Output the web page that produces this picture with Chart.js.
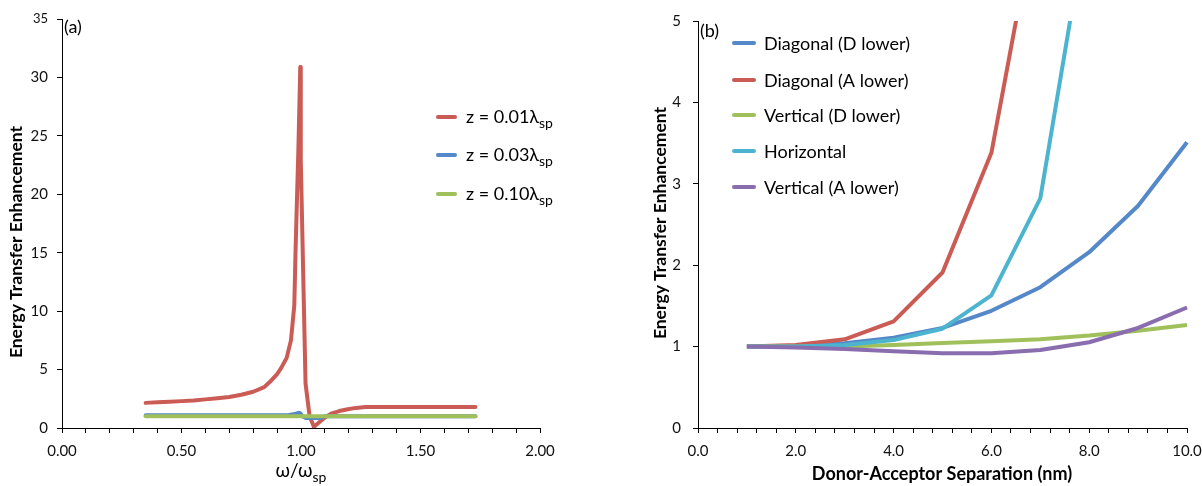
<!DOCTYPE html>
<html><head><meta charset="utf-8">
<script src="https://cdn.jsdelivr.net/npm/chart.js@4.4.1/dist/chart.umd.min.js"></script>
<style>
html,body{margin:0;padding:0;background:#fff;overflow:hidden;width:1202px;height:486px;}
#a{position:absolute;left:0;top:0;}
#b{position:absolute;left:600px;top:0;}
</style></head><body>
<canvas id="a" width="600" height="486"></canvas>
<canvas id="b" width="620" height="486"></canvas>
<script>
// ---------- Panel (a) data ----------
const redX = [0.35,0.40,0.45,0.50,0.55,0.60,0.65,0.70,0.75,0.80,0.846,0.87,0.90,0.916,0.94,0.958,0.965,0.972,0.977,0.983,0.989,0.997,0.999,1.019,1.036,1.054,1.08,1.10,1.126,1.16,1.196,1.23,1.27,1.40,1.55,1.73];
const redY = [2.15,2.2,2.25,2.3,2.35,2.45,2.55,2.65,2.85,3.1,3.5,3.95,4.6,5.1,6.0,7.5,9.0,10.5,15.0,19.5,23.8,30.9,23.0,3.8,1.0,0.1,0.55,0.9,1.23,1.45,1.6,1.72,1.8,1.8,1.8,1.8];
const blueX = [0.35,0.60,0.90,0.95,0.975,0.99,0.998,1.005,1.02,1.05,1.08,1.10,1.40,1.73];
const blueY = [1.1,1.1,1.1,1.12,1.2,1.3,1.25,1.0,0.85,0.85,0.85,1.0,1.0,1.0];
const greenX = [0.35,0.70,1.00,1.40,1.73];
const greenY = [1.0,1.0,1.0,1.0,1.0];
const labelsA = ['z = 0.01λ','z = 0.03λ','z = 0.10λ'];
const labelSubA = 'sp';
const xTicksA = [0,0.5,1.0,1.5,2.0];
const yTicksA = [0,5,10,15,20,25,30,35];

// ---------- Panel (b) data ----------
const sepX = [1,2,3,4,5,6,7,8,9,10];
const diagD = [1.0,1.01,1.04,1.11,1.23,1.44,1.73,2.16,2.73,3.51];
const diagA = [1.0,1.02,1.09,1.31,1.91,3.38,6.6,null,null,null];
const vertD = [1.0,1.0,1.0,1.02,1.045,1.065,1.09,1.135,1.195,1.265];
const horiz = [1.0,1.0,1.02,1.08,1.22,1.63,2.82,6.4,null,null];
const vertA = [1.0,0.99,0.97,0.943,0.918,0.918,0.959,1.053,1.229,1.48];
const labelsB = ['Diagonal (D lower)','Diagonal (A lower)','Vertical (D lower)','Horizontal','Vertical (A lower)'];
const xTicksB = [0,2,4,6,8,10];
const yTicksB = [0,1,2,3,4,5];

const RED='#CB5B55', BLUE='#5588C8', GREEN='#A0C05C', CYAN='#4DB4CF', PURPLE='#8A6DAE';
const FAM = 'Lato, "Open Sans", sans-serif';

function pts(xs, ys){ return xs.map((x,i)=>({x:x, y:ys[i]})); }

function subText(ctx, main, sub, x, y, mf, sf, align, dy){
  ctx.font = mf; const w1 = ctx.measureText(main).width;
  ctx.font = sf; const w2 = ctx.measureText(sub).width;
  const x0 = align==='center' ? x-(w1+w2)/2 : x;
  ctx.textAlign='left'; ctx.textBaseline='alphabetic'; ctx.fillStyle='#000';
  ctx.font=mf; ctx.fillText(main,x0,y);
  ctx.font=sf; ctx.fillText(sub,x0+w1,y+dy);
}
function vTitle(ctx, text, cx, cy, font){
  ctx.save(); ctx.translate(cx,cy); ctx.rotate(-Math.PI/2);
  ctx.font=font; ctx.fillStyle='#000'; ctx.textAlign='center'; ctx.textBaseline='middle';
  ctx.fillText(text,0,0); ctx.restore();
}
function legendLine(ctx, x1, x2, y, color){
  ctx.save(); ctx.strokeStyle=color; ctx.lineWidth=4; ctx.lineCap='round';
  ctx.beginPath(); ctx.moveTo(x1,y); ctx.lineTo(x2,y); ctx.stroke(); ctx.restore();
}

function axisCommon(){
  return {
    grid:{drawOnChartArea:false, drawTicks:true, tickLength:5, color:'#000', tickColor:'#000', lineWidth:1},
    border:{color:'#000', width:1}
  };
}

// ---------- Chart (a) ----------
const colorsA=[RED,BLUE,GREEN];
const annotA = {
  id:'annotA',
  afterDraw(chart){
    const ctx=chart.ctx;
    ctx.save();
    ctx.font='18px '+FAM; ctx.fillStyle='#000'; ctx.textAlign='left'; ctx.textBaseline='alphabetic';
    ctx.fillText('(a)',64,33);
    const rows=[117,155,194];
    rows.forEach((ry,i)=>{
      legendLine(ctx,438,455,ry,colorsA[i]);
      subText(ctx,labelsA[i],labelSubA,466,ry+6,'18px '+FAM,'14px '+FAM,'left',5);
    });
    subText(ctx,'ω/ω','sp',301,477,'19px '+FAM,'14px '+FAM,'center',5);
    vTitle(ctx,'Energy Transfer Enhancement',16,242,'bold 17.5px '+FAM);
    ctx.restore();
  }
};
new Chart(document.getElementById('a'),{
  type:'line',
  data:{datasets:[
    {data:pts(redX,redY), borderColor:RED, order:3},
    {data:pts(blueX,blueY), borderColor:BLUE, order:2},
    {data:pts(greenX,greenY), borderColor:GREEN, order:1}
  ]},
  options:{
    responsive:false, animation:false, events:[],
    elements:{line:{borderWidth:4, tension:0, borderJoinStyle:'round', borderCapStyle:'round'}, point:{radius:0}},
    layout:{padding:{left:0,right:60,top:19,bottom:0}},
    plugins:{legend:{display:false}, tooltip:{enabled:false}},
    scales:{
      x:Object.assign(axisCommon(),{
        type:'linear', min:xTicksA[0], max:xTicksA[xTicksA.length-1],
        afterFit(s){ s.height=58; },
        ticks:{stepSize:0.1, autoSkip:false, maxRotation:0, padding:9, color:'#111',
          font:{family:FAM,size:15},
          callback:(v)=> xTicksA.some(t=>Math.abs(t-v)<1e-7) ? v.toFixed(2) : ''}
      }),
      y:Object.assign(axisCommon(),{
        type:'linear', min:yTicksA[0], max:yTicksA[yTicksA.length-1],
        afterFit(s){ s.width=62; },
        ticks:{stepSize:5, autoSkip:false, padding:9, color:'#111',
          font:(c)=>({family:FAM,size:(c.tick && c.tick.value===35)?13:15}),
          callback:(v)=> String(v)}
      })
    }
  },
  plugins:[annotA]
});

// ---------- Chart (b) ----------
const colorsB=[BLUE,RED,GREEN,CYAN,PURPLE];
const seriesB=[diagD,diagA,vertD,horiz,vertA];
const annotB = {
  id:'annotB',
  afterDraw(chart){
    const ctx=chart.ctx;
    ctx.save();
    ctx.font='18px '+FAM; ctx.fillStyle='#000'; ctx.textAlign='left'; ctx.textBaseline='alphabetic';
    ctx.fillText('(b)',100,37);
    const rows=[43,80,115,151,187];
    rows.forEach((ry,i)=>{
      legendLine(ctx,134,154,ry,colorsB[i]);
      ctx.font='18px '+FAM; ctx.fillStyle='#000'; ctx.textAlign='left'; ctx.textBaseline='alphabetic';
      ctx.fillText(labelsB[i],164,ry+7);
    });
    ctx.font='bold 18px '+FAM; ctx.textAlign='center';
    ctx.fillText('Donor-Acceptor Separation (nm)',342,480);
    vTitle(ctx,'Energy Transfer Enhancement',60,223,'bold 17.5px '+FAM);
    ctx.restore();
  }
};
new Chart(document.getElementById('b'),{
  type:'line',
  data:{datasets: seriesB.map((s,i)=>({
    data:pts(sepX,s), borderColor:colorsB[i], order:seriesB.length-i,
    clip:{left:3,right:3,top:0,bottom:3}
  }))},
  options:{
    responsive:false, animation:false, events:[],
    elements:{line:{borderWidth:4, tension:0, borderJoinStyle:'round', borderCapStyle:'butt'}, point:{radius:0}},
    layout:{padding:{left:0,right:33,top:19,bottom:0}},
    plugins:{legend:{display:false}, tooltip:{enabled:false}},
    scales:{
      x:Object.assign(axisCommon(),{
        type:'linear', min:xTicksB[0], max:xTicksB[xTicksB.length-1],
        afterFit(s){ s.height=58; },
        ticks:{stepSize:0.4, autoSkip:false, maxRotation:0, padding:9, color:'#111',
          font:{family:FAM,size:15},
          callback:(v)=> xTicksB.some(t=>Math.abs(t-v)<1e-7) ? v.toFixed(1) : ''}
      }),
      y:Object.assign(axisCommon(),{
        type:'linear', min:yTicksB[0], max:yTicksB[yTicksB.length-1],
        afterFit(s){ s.width=98; },
        ticks:{stepSize:1, autoSkip:false, padding:12, color:'#111',
          font:{family:FAM,size:15},
          callback:(v)=> String(v)}
      })
    }
  },
  plugins:[annotB]
});
</script></body></html>
